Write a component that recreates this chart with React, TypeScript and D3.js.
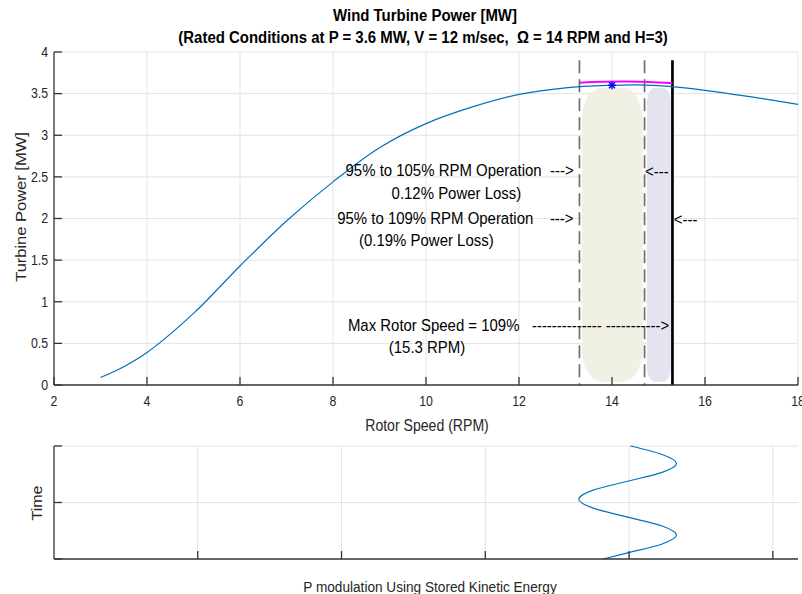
import * as d3 from 'd3';

// rotor speed (RPM) vs turbine power (MW)
const rpm = [3, 3.5, 4, 5, 6, 7, 8, 9, 10, 11, 12, 13, 14, 14.5, 15, 16, 17, 18];
const powerMW = [0.09, 0.22, 0.39, 0.86, 1.43, 1.97, 2.44, 2.85, 3.14, 3.34, 3.49, 3.57, 3.6, 3.605, 3.595, 3.54, 3.46, 3.37];

// magenta arc over the operating band
const lossRpm = [13.3, 13.8, 14.3, 14.8, 15.3];
const lossMW = [3.632, 3.642, 3.645, 3.64, 3.625];

const ratedRpm = 14;
const ratedMW = 3.6;

// 95%, 105%, 109% of rated speed
const limitRpm = [13.3, 14.7, 15.3];

// shaded bands [x0, x1, y0, y1]
const bands = [
  [13.35, 14.66, 0.04, 3.57],
  [14.75, 15.27, 0.04, 3.57],
];

const xTicks = [2, 4, 6, 8, 10, 12, 14, 16, 18];
const yTicks = [0, 0.5, 1, 1.5, 2, 2.5, 3, 3.5, 4];

const notes = [
  { text: '95% to 105% RPM Operation  --->', x: 8.27, y: 2.58 },
  { text: '0.12% Power Loss)', x: 9.26, y: 2.31 },
  { text: '95% to 109% RPM Operation    --->', x: 8.09, y: 2.0 },
  { text: '(0.19% Power Loss)', x: 8.56, y: 1.74 },
  { text: 'Max Rotor Speed = 109%   -------------- ----------->', x: 8.32, y: 0.72 },
  { text: '(15.3 RPM)', x: 9.2, y: 0.46 },
  { text: '<---', x: 14.71, y: 2.57 },
  { text: '<---', x: 15.33, y: 1.99 },
];

// lower panel: power modulation over time
const modT = [0, 0.054, 0.133, 0.212, 0.292, 0.371, 0.45, 0.529, 0.609, 0.688, 0.767, 0.846, 0.925, 1.0];
const modP = [3.82, 3.99, 4.23, 4.33, 4.23, 3.99, 3.75, 3.65, 3.75, 3.99, 4.23, 4.33, 4.23, 4.01];
const modXTicks = [1, 2, 3, 4, 5];
const modYTicks = [0, 0.5, 1];

const SX = 0.88;
const AXIS = '#333';
const GRID = '#e3e3e3';
const TXT = '#262626';

function Label({ x, y, size, children, anchor = 'start', weight = 'normal', rotate = 0, fill = '#000' }: any) {
  return (
    <g transform={`translate(${x},${y}) scale(${SX},1) rotate(${rotate})`}>
      <text
        fontSize={size}
        textAnchor={anchor}
        dominantBaseline="central"
        fontWeight={weight}
        fill={fill}
        style={{ whiteSpace: 'pre' }}
      >
        {children}
      </text>
    </g>
  );
}

export default function App() {
  const width = 802;
  const height = 594;
  const m = { left: 54, right: 798, top: 52, bottom: 385 };
  const m2 = { top: 446, bottom: 559 };

  const x = d3.scaleLinear().domain([2, 18]).range([m.left, m.right]);
  const y = d3.scaleLinear().domain([0, 4]).range([m.bottom, m.top]);

  const x2 = d3.scaleLinear().domain([0, 5.175]).range([m.left, m.right]);
  const y2 = d3.scaleLinear().domain([0, 1]).range([m2.bottom, m2.top]);

  const powerLine = d3.line<number>()
    .x((d) => x(d))
    .y((_, i) => y(powerMW[i]))
    .curve(d3.curveCatmullRom.alpha(0.5));

  const lossLine = d3.line<number>()
    .x((d) => x(d))
    .y((_, i) => y(lossMW[i]))
    .curve(d3.curveCatmullRom.alpha(0.5));

  const modLine = d3.line<number>()
    .x((_, i) => x2(modP[i]))
    .y((d) => y2(d))
    .curve(d3.curveMonotoneY);

  const sx = x(ratedRpm);
  const sy = y(ratedMW);
  const r = 4;

  return (
    <svg
      width={width}
      height={height}
      style={{ position: 'absolute', left: 0, top: 0, background: '#fff' }}
      fontFamily="'Liberation Sans', Arial, Helvetica, sans-serif"
    >
      <rect width={width} height={height} fill="#fff" />

      {/* title */}
      <Label x={425} y={15} size={17} anchor="middle" weight="bold">Wind Turbine Power [MW]</Label>
      <Label x={423} y={37} size={17} anchor="middle" weight="bold">
        {'(Rated Conditions at P = 3.6 MW, V = 12 m/sec,  Ω = 14 RPM and H=3)'}
      </Label>

      {/* upper grid */}
      <g stroke={GRID} strokeWidth={1}>
        {xTicks.slice(1).map((t) => (
          <line key={'gx' + t} x1={x(t)} x2={x(t)} y1={m.top} y2={m.bottom} />
        ))}
        {yTicks.slice(1).map((t) => (
          <line key={'gy' + t} x1={m.left} x2={m.right} y1={y(t)} y2={y(t)} />
        ))}
      </g>

      {/* shaded bands */}
      <rect
        x={x(bands[0][0])} y={y(bands[0][3])}
        width={x(bands[0][1]) - x(bands[0][0])} height={y(bands[0][2]) - y(bands[0][3])}
        rx={20} ry={32} fill="#f0f0e4"
      />
      <rect
        x={x(bands[1][0])} y={y(bands[1][3])}
        width={x(bands[1][1]) - x(bands[1][0])} height={y(bands[1][2]) - y(bands[1][3])}
        rx={8} ry={15} fill="#e4e4f0"
      />

      {/* limit lines */}
      <line x1={x(limitRpm[0])} x2={x(limitRpm[0])} y1={y(3.9)} y2={y(0)} stroke="#707070" strokeWidth={1.7} strokeDasharray="13,6" />
      <line x1={x(limitRpm[1])} x2={x(limitRpm[1])} y1={y(3.9)} y2={y(0)} stroke="#707070" strokeWidth={1.7} strokeDasharray="13,6" />
      <line x1={x(limitRpm[2])} x2={x(limitRpm[2])} y1={y(3.9)} y2={y(0)} stroke="#000" strokeWidth={2.7} />

      {/* curves */}
      <path d={powerLine(rpm) || ''} fill="none" stroke="#0072bd" strokeWidth={1.2} />
      <path d={lossLine(lossRpm) || ''} fill="none" stroke="#ff00ff" strokeWidth={2} />

      {/* rated point marker */}
      <g stroke="#0000ff" strokeWidth={1.4}>
        <line x1={sx - r} x2={sx + r} y1={sy} y2={sy} />
        <line x1={sx} x2={sx} y1={sy - r} y2={sy + r} />
        <line x1={sx - r * 0.75} x2={sx + r * 0.75} y1={sy - r * 0.75} y2={sy + r * 0.75} />
        <line x1={sx - r * 0.75} x2={sx + r * 0.75} y1={sy + r * 0.75} y2={sy - r * 0.75} />
      </g>

      {/* annotations */}
      {notes.map((n, i) => (
        <Label key={'n' + i} x={x(n.x)} y={y(n.y)} size={17}>{n.text}</Label>
      ))}

      {/* upper axes */}
      <g stroke={AXIS} strokeWidth={1.3}>
        <line x1={m.left} x2={m.left} y1={m.top} y2={m.bottom} />
        <line x1={m.left} x2={m.right} y1={m.bottom} y2={m.bottom} />
        {xTicks.map((t) => (
          <line key={'tx' + t} x1={x(t)} x2={x(t)} y1={m.bottom} y2={m.bottom - 8} />
        ))}
        {yTicks.map((t) => (
          <line key={'ty' + t} x1={m.left} x2={m.left + 8} y1={y(t)} y2={y(t)} />
        ))}
      </g>
      {xTicks.map((t) => (
        <Label key={'lx' + t} x={x(t)} y={401} size={14} anchor="middle" fill={TXT}>{String(t)}</Label>
      ))}
      {yTicks.map((t) => (
        <Label key={'ly' + t} x={48} y={y(t)} size={14} anchor="end" fill={TXT}>{String(t)}</Label>
      ))}
      <Label x={427} y={425} size={16} anchor="middle" fill={TXT}>Rotor Speed (RPM)</Label>
      <Label x={21} y={207} size={16.5} anchor="middle" rotate={-90} fill={TXT}>Turbine Power [MW]</Label>

      {/* lower panel */}
      <g stroke={GRID} strokeWidth={1}>
        {modXTicks.map((t) => (
          <line key={'g2x' + t} x1={x2(t)} x2={x2(t)} y1={m2.top} y2={m2.bottom} />
        ))}
        {modYTicks.slice(1).map((t) => (
          <line key={'g2y' + t} x1={m.left} x2={m.right} y1={y2(t)} y2={y2(t)} />
        ))}
      </g>
      <path d={modLine(modT) || ''} fill="none" stroke="#0072bd" strokeWidth={1.2} />
      <g stroke={AXIS} strokeWidth={1.3}>
        <line x1={m.left} x2={m.left} y1={m2.top} y2={m2.bottom} />
        <line x1={m.left} x2={m.right} y1={m2.bottom} y2={m2.bottom} />
        {modXTicks.map((t) => (
          <line key={'t2x' + t} x1={x2(t)} x2={x2(t)} y1={m2.bottom} y2={m2.bottom - 8} />
        ))}
        {modYTicks.map((t) => (
          <line key={'t2y' + t} x1={m.left} x2={m.left + 8} y1={y2(t)} y2={y2(t)} />
        ))}
      </g>
      <Label x={37} y={503} size={16} anchor="middle" rotate={-90} fill={TXT}>Time</Label>
      <Label x={430} y={587} size={15.5} anchor="middle" fill={TXT}>P modulation Using Stored Kinetic Energy</Label>
    </svg>
  );
}
